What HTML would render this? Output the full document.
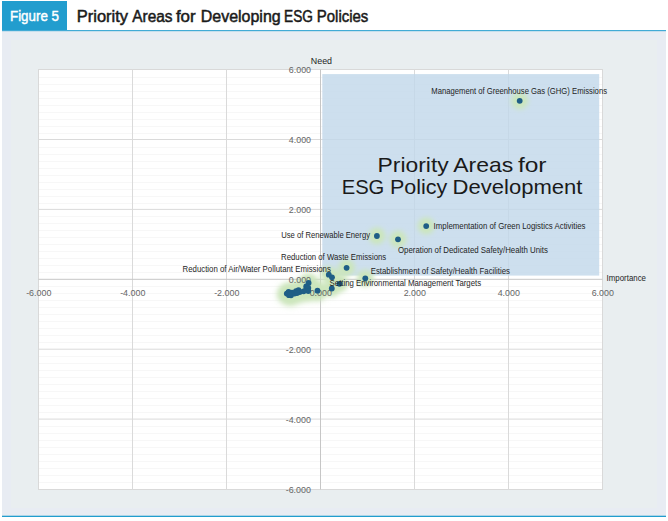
<!DOCTYPE html>
<html><head><meta charset="utf-8">
<style>
html,body{margin:0;padding:0;background:#fff;width:668px;height:521px;overflow:hidden}
svg{display:block}
text{font-family:"Liberation Sans",sans-serif}
.tk{font-size:9.6px;fill:#666}
.lb{font-size:9.5px;fill:#1e1e1e}
</style></head><body>
<svg width="668" height="521" viewBox="0 0 668 521">
<defs>
<filter id="blur" x="-50%" y="-50%" width="200%" height="200%"><feGaussianBlur stdDeviation="2.5"/></filter>
<filter id="blur2" x="-50%" y="-50%" width="200%" height="200%"><feGaussianBlur stdDeviation="3.5"/></filter>
</defs>
<rect x="0" y="0" width="668" height="521" fill="#fff"/>
<rect x="2" y="30" width="664" height="486" fill="#e8ecf3"/>
<rect x="11" y="40" width="646" height="468" fill="#e9eef0"/>
<rect x="2" y="1" width="65" height="29.6" fill="#229dce"/>
<rect x="2" y="30" width="664" height="1.2" fill="#42aad6"/>
<rect x="2" y="515.7" width="664" height="1.3" fill="#229dce"/>
<text x="10" y="20.6" font-size="14.6" fill="#fff" stroke="#fff" stroke-width="0.45" textLength="49" lengthAdjust="spacingAndGlyphs">Figure 5</text>
<text x="76.80" y="21.7" textLength="51.22" lengthAdjust="spacingAndGlyphs" font-size="16" fill="#1a1a1a" stroke="#1a1a1a" stroke-width="0.5">Priority</text>
<text x="132.30" y="21.7" textLength="40.24" lengthAdjust="spacingAndGlyphs" font-size="16" fill="#1a1a1a" stroke="#1a1a1a" stroke-width="0.5">Areas</text>
<text x="175.90" y="21.7" textLength="19.73" lengthAdjust="spacingAndGlyphs" font-size="16" fill="#1a1a1a" stroke="#1a1a1a" stroke-width="0.5">for</text>
<text x="200.80" y="21.7" textLength="79.88" lengthAdjust="spacingAndGlyphs" font-size="16" fill="#1a1a1a" stroke="#1a1a1a" stroke-width="0.5">Developing</text>
<text x="284.10" y="21.7" textLength="28.83" lengthAdjust="spacingAndGlyphs" font-size="16" fill="#1a1a1a" stroke="#1a1a1a" stroke-width="0.5">ESG</text>
<text x="316.80" y="21.7" textLength="51.51" lengthAdjust="spacingAndGlyphs" font-size="16" fill="#1a1a1a" stroke="#1a1a1a" stroke-width="0.5">Policies</text>
<rect x="38.5" y="69.5" width="564.0" height="420.0" fill="#fff" stroke="#d9d9d9" stroke-width="1"/>
<line x1="39.0" y1="482.50" x2="602.0" y2="482.50" stroke="#f7f7f7" stroke-width="1"/>
<line x1="39.0" y1="475.50" x2="602.0" y2="475.50" stroke="#f7f7f7" stroke-width="1"/>
<line x1="39.0" y1="468.50" x2="602.0" y2="468.50" stroke="#f7f7f7" stroke-width="1"/>
<line x1="39.0" y1="461.50" x2="602.0" y2="461.50" stroke="#f7f7f7" stroke-width="1"/>
<line x1="39.0" y1="454.50" x2="602.0" y2="454.50" stroke="#f7f7f7" stroke-width="1"/>
<line x1="39.0" y1="447.50" x2="602.0" y2="447.50" stroke="#f7f7f7" stroke-width="1"/>
<line x1="39.0" y1="440.50" x2="602.0" y2="440.50" stroke="#f7f7f7" stroke-width="1"/>
<line x1="39.0" y1="433.50" x2="602.0" y2="433.50" stroke="#f7f7f7" stroke-width="1"/>
<line x1="39.0" y1="426.50" x2="602.0" y2="426.50" stroke="#f7f7f7" stroke-width="1"/>
<line x1="39.0" y1="412.50" x2="602.0" y2="412.50" stroke="#f7f7f7" stroke-width="1"/>
<line x1="39.0" y1="405.50" x2="602.0" y2="405.50" stroke="#f7f7f7" stroke-width="1"/>
<line x1="39.0" y1="398.50" x2="602.0" y2="398.50" stroke="#f7f7f7" stroke-width="1"/>
<line x1="39.0" y1="391.50" x2="602.0" y2="391.50" stroke="#f7f7f7" stroke-width="1"/>
<line x1="39.0" y1="384.50" x2="602.0" y2="384.50" stroke="#f7f7f7" stroke-width="1"/>
<line x1="39.0" y1="377.50" x2="602.0" y2="377.50" stroke="#f7f7f7" stroke-width="1"/>
<line x1="39.0" y1="370.50" x2="602.0" y2="370.50" stroke="#f7f7f7" stroke-width="1"/>
<line x1="39.0" y1="363.50" x2="602.0" y2="363.50" stroke="#f7f7f7" stroke-width="1"/>
<line x1="39.0" y1="356.50" x2="602.0" y2="356.50" stroke="#f7f7f7" stroke-width="1"/>
<line x1="39.0" y1="342.50" x2="602.0" y2="342.50" stroke="#f7f7f7" stroke-width="1"/>
<line x1="39.0" y1="335.50" x2="602.0" y2="335.50" stroke="#f7f7f7" stroke-width="1"/>
<line x1="39.0" y1="328.50" x2="602.0" y2="328.50" stroke="#f7f7f7" stroke-width="1"/>
<line x1="39.0" y1="321.50" x2="602.0" y2="321.50" stroke="#f7f7f7" stroke-width="1"/>
<line x1="39.0" y1="314.50" x2="602.0" y2="314.50" stroke="#f7f7f7" stroke-width="1"/>
<line x1="39.0" y1="307.50" x2="602.0" y2="307.50" stroke="#f7f7f7" stroke-width="1"/>
<line x1="39.0" y1="300.50" x2="602.0" y2="300.50" stroke="#f7f7f7" stroke-width="1"/>
<line x1="39.0" y1="293.50" x2="602.0" y2="293.50" stroke="#f7f7f7" stroke-width="1"/>
<line x1="39.0" y1="286.50" x2="602.0" y2="286.50" stroke="#f7f7f7" stroke-width="1"/>
<line x1="39.0" y1="272.50" x2="602.0" y2="272.50" stroke="#f7f7f7" stroke-width="1"/>
<line x1="39.0" y1="265.50" x2="602.0" y2="265.50" stroke="#f7f7f7" stroke-width="1"/>
<line x1="39.0" y1="258.50" x2="602.0" y2="258.50" stroke="#f7f7f7" stroke-width="1"/>
<line x1="39.0" y1="251.50" x2="602.0" y2="251.50" stroke="#f7f7f7" stroke-width="1"/>
<line x1="39.0" y1="244.50" x2="602.0" y2="244.50" stroke="#f7f7f7" stroke-width="1"/>
<line x1="39.0" y1="237.50" x2="602.0" y2="237.50" stroke="#f7f7f7" stroke-width="1"/>
<line x1="39.0" y1="230.50" x2="602.0" y2="230.50" stroke="#f7f7f7" stroke-width="1"/>
<line x1="39.0" y1="223.50" x2="602.0" y2="223.50" stroke="#f7f7f7" stroke-width="1"/>
<line x1="39.0" y1="216.50" x2="602.0" y2="216.50" stroke="#f7f7f7" stroke-width="1"/>
<line x1="39.0" y1="203.50" x2="602.0" y2="203.50" stroke="#f7f7f7" stroke-width="1"/>
<line x1="39.0" y1="196.50" x2="602.0" y2="196.50" stroke="#f7f7f7" stroke-width="1"/>
<line x1="39.0" y1="189.50" x2="602.0" y2="189.50" stroke="#f7f7f7" stroke-width="1"/>
<line x1="39.0" y1="182.50" x2="602.0" y2="182.50" stroke="#f7f7f7" stroke-width="1"/>
<line x1="39.0" y1="175.50" x2="602.0" y2="175.50" stroke="#f7f7f7" stroke-width="1"/>
<line x1="39.0" y1="168.50" x2="602.0" y2="168.50" stroke="#f7f7f7" stroke-width="1"/>
<line x1="39.0" y1="161.50" x2="602.0" y2="161.50" stroke="#f7f7f7" stroke-width="1"/>
<line x1="39.0" y1="154.50" x2="602.0" y2="154.50" stroke="#f7f7f7" stroke-width="1"/>
<line x1="39.0" y1="147.50" x2="602.0" y2="147.50" stroke="#f7f7f7" stroke-width="1"/>
<line x1="39.0" y1="133.50" x2="602.0" y2="133.50" stroke="#f7f7f7" stroke-width="1"/>
<line x1="39.0" y1="126.50" x2="602.0" y2="126.50" stroke="#f7f7f7" stroke-width="1"/>
<line x1="39.0" y1="119.50" x2="602.0" y2="119.50" stroke="#f7f7f7" stroke-width="1"/>
<line x1="39.0" y1="112.50" x2="602.0" y2="112.50" stroke="#f7f7f7" stroke-width="1"/>
<line x1="39.0" y1="105.50" x2="602.0" y2="105.50" stroke="#f7f7f7" stroke-width="1"/>
<line x1="39.0" y1="98.50" x2="602.0" y2="98.50" stroke="#f7f7f7" stroke-width="1"/>
<line x1="39.0" y1="91.50" x2="602.0" y2="91.50" stroke="#f7f7f7" stroke-width="1"/>
<line x1="39.0" y1="84.50" x2="602.0" y2="84.50" stroke="#f7f7f7" stroke-width="1"/>
<line x1="39.0" y1="77.50" x2="602.0" y2="77.50" stroke="#f7f7f7" stroke-width="1"/>
<line x1="132.50" y1="69.5" x2="132.50" y2="489.5" stroke="#dadada" stroke-width="1"/>
<line x1="226.50" y1="69.5" x2="226.50" y2="489.5" stroke="#dadada" stroke-width="1"/>
<line x1="414.50" y1="69.5" x2="414.50" y2="489.5" stroke="#dadada" stroke-width="1"/>
<line x1="508.50" y1="69.5" x2="508.50" y2="489.5" stroke="#dadada" stroke-width="1"/>
<line x1="38.5" y1="419.10" x2="602.5" y2="419.10" stroke="#dadada" stroke-width="1"/>
<line x1="38.5" y1="349.20" x2="602.5" y2="349.20" stroke="#dadada" stroke-width="1"/>
<line x1="38.5" y1="209.40" x2="602.5" y2="209.40" stroke="#dadada" stroke-width="1"/>
<line x1="38.5" y1="139.50" x2="602.5" y2="139.50" stroke="#dadada" stroke-width="1"/>
<rect x="322.3" y="74.1" width="276.9" height="201.5" fill="#c1d7ea" fill-opacity="0.8"/>
<text x="377.60" y="172.20000000000002" textLength="71.13" lengthAdjust="spacingAndGlyphs" font-size="19.8" fill="#1a1a1a">Priority</text>
<text x="453.30" y="172.20000000000002" textLength="59.96" lengthAdjust="spacingAndGlyphs" font-size="19.8" fill="#1a1a1a">Areas</text>
<text x="517.90" y="172.20000000000002" textLength="28.65" lengthAdjust="spacingAndGlyphs" font-size="19.8" fill="#1a1a1a">for</text>
<text x="341.70" y="193.70000000000002" textLength="42.64" lengthAdjust="spacingAndGlyphs" font-size="19.8" fill="#1a1a1a">ESG</text>
<text x="390.00" y="193.70000000000002" textLength="57.35" lengthAdjust="spacingAndGlyphs" font-size="19.8" fill="#1a1a1a">Policy</text>
<text x="452.60" y="193.70000000000002" textLength="129.85" lengthAdjust="spacingAndGlyphs" font-size="19.8" fill="#1a1a1a">Development</text>
<line x1="320.5" y1="69.5" x2="320.5" y2="489.5" stroke="#c6c6c6" stroke-width="1"/>
<line x1="38.5" y1="279.3" x2="602.5" y2="279.3" stroke="#c6c6c6" stroke-width="1"/>
<g filter="url(#blur2)">
<circle cx="317.5" cy="291.7" r="9" fill="#cde5bd"/>
<circle cx="286.8" cy="294.6" r="9" fill="#cde5bd"/>
<circle cx="288.5" cy="293.7" r="9" fill="#cde5bd"/>
<circle cx="288.6" cy="292.9" r="9" fill="#cde5bd"/>
<circle cx="289.0" cy="296.2" r="9" fill="#cde5bd"/>
<circle cx="291.0" cy="296.3" r="9" fill="#cde5bd"/>
<circle cx="292.0" cy="293.6" r="9" fill="#cde5bd"/>
<circle cx="294.5" cy="294.5" r="9" fill="#cde5bd"/>
<circle cx="296.0" cy="292.2" r="9" fill="#cde5bd"/>
<circle cx="298.5" cy="291.2" r="9" fill="#cde5bd"/>
<circle cx="299.7" cy="293.0" r="9" fill="#cde5bd"/>
<circle cx="290.0" cy="295.5" r="9" fill="#cde5bd"/>
<circle cx="297.0" cy="294.0" r="9" fill="#cde5bd"/>
<circle cx="308.6" cy="283.9" r="9" fill="#cde5bd"/>
<circle cx="306.2" cy="287.5" r="9" fill="#cde5bd"/>
<circle cx="306.2" cy="290.5" r="9" fill="#cde5bd"/>
<circle cx="308.3" cy="289.0" r="9" fill="#cde5bd"/>
<circle cx="308.3" cy="292.0" r="9" fill="#cde5bd"/>
<circle cx="303.6" cy="292.3" r="9" fill="#cde5bd"/>
</g>
<g filter="url(#blur)">
<circle cx="519.7" cy="100.8" r="8.5" fill="#cce6bc"/>
<circle cx="376.9" cy="236.0" r="8.5" fill="#cce6bc"/>
<circle cx="398.0" cy="239.3" r="8.5" fill="#cce6bc"/>
<circle cx="426.2" cy="226.1" r="8.5" fill="#cce6bc"/>
<circle cx="346.6" cy="267.8" r="8.5" fill="#cce6bc"/>
<circle cx="365.3" cy="278.3" r="8.5" fill="#cce6bc"/>
<circle cx="328.8" cy="274.7" r="8.5" fill="#cce6bc"/>
<circle cx="332.0" cy="277.3" r="8.5" fill="#cce6bc"/>
<circle cx="339.5" cy="283.8" r="8.5" fill="#cce6bc"/>
<circle cx="331.8" cy="288.5" r="8.5" fill="#cce6bc"/>
<circle cx="317.5" cy="290.7" r="8.5" fill="#cce6bc"/>
<circle cx="286.8" cy="293.6" r="8.5" fill="#cce6bc"/>
<circle cx="288.5" cy="292.7" r="8.5" fill="#cce6bc"/>
<circle cx="288.6" cy="291.9" r="8.5" fill="#cce6bc"/>
<circle cx="289.0" cy="295.2" r="8.5" fill="#cce6bc"/>
<circle cx="291.0" cy="295.3" r="8.5" fill="#cce6bc"/>
<circle cx="292.0" cy="292.6" r="8.5" fill="#cce6bc"/>
<circle cx="294.5" cy="293.5" r="8.5" fill="#cce6bc"/>
<circle cx="296.0" cy="291.2" r="8.5" fill="#cce6bc"/>
<circle cx="298.5" cy="290.2" r="8.5" fill="#cce6bc"/>
<circle cx="299.7" cy="292.0" r="8.5" fill="#cce6bc"/>
<circle cx="290.0" cy="294.5" r="8.5" fill="#cce6bc"/>
<circle cx="297.0" cy="293.0" r="8.5" fill="#cce6bc"/>
<circle cx="308.6" cy="282.9" r="8.5" fill="#cce6bc"/>
<circle cx="306.2" cy="286.5" r="8.5" fill="#cce6bc"/>
<circle cx="306.2" cy="289.5" r="8.5" fill="#cce6bc"/>
<circle cx="308.3" cy="288.0" r="8.5" fill="#cce6bc"/>
<circle cx="308.3" cy="291.0" r="8.5" fill="#cce6bc"/>
<circle cx="303.6" cy="291.3" r="8.5" fill="#cce6bc"/>
</g>
<text x="38.80" y="296.4" text-anchor="middle" textLength="25.3" lengthAdjust="spacingAndGlyphs" class="tk">-6.000</text>
<text x="132.80" y="296.4" text-anchor="middle" textLength="25.3" lengthAdjust="spacingAndGlyphs" class="tk">-4.000</text>
<text x="226.80" y="296.4" text-anchor="middle" textLength="25.3" lengthAdjust="spacingAndGlyphs" class="tk">-2.000</text>
<text x="320.80" y="296.4" text-anchor="middle" textLength="22.2" lengthAdjust="spacingAndGlyphs" class="tk">0.000</text>
<text x="414.80" y="296.4" text-anchor="middle" textLength="22.2" lengthAdjust="spacingAndGlyphs" class="tk">2.000</text>
<text x="508.80" y="296.4" text-anchor="middle" textLength="22.2" lengthAdjust="spacingAndGlyphs" class="tk">4.000</text>
<text x="602.80" y="296.4" text-anchor="middle" textLength="22.2" lengthAdjust="spacingAndGlyphs" class="tk">6.000</text>
<text x="285.70" y="492.60" textLength="25.3" lengthAdjust="spacingAndGlyphs" class="tk">-6.000</text>
<text x="285.70" y="422.70" textLength="25.3" lengthAdjust="spacingAndGlyphs" class="tk">-4.000</text>
<text x="285.70" y="352.80" textLength="25.3" lengthAdjust="spacingAndGlyphs" class="tk">-2.000</text>
<text x="288.80" y="282.90" textLength="22.2" lengthAdjust="spacingAndGlyphs" class="tk">0.000</text>
<text x="288.80" y="213.00" textLength="22.2" lengthAdjust="spacingAndGlyphs" class="tk">2.000</text>
<text x="288.80" y="143.10" textLength="22.2" lengthAdjust="spacingAndGlyphs" class="tk">4.000</text>
<text x="288.80" y="73.20" textLength="22.2" lengthAdjust="spacingAndGlyphs" class="tk">6.000</text>
<circle cx="519.7" cy="100.8" r="2.9" fill="#1f5e86"/>
<circle cx="376.9" cy="236.0" r="2.9" fill="#1f5e86"/>
<circle cx="398.0" cy="239.3" r="2.9" fill="#1f5e86"/>
<circle cx="426.2" cy="226.1" r="2.9" fill="#1f5e86"/>
<circle cx="346.6" cy="267.8" r="2.9" fill="#1f5e86"/>
<circle cx="365.3" cy="278.3" r="2.9" fill="#1f5e86"/>
<circle cx="328.8" cy="274.7" r="2.9" fill="#1f5e86"/>
<circle cx="332.0" cy="277.3" r="2.9" fill="#1f5e86"/>
<circle cx="339.5" cy="283.8" r="2.9" fill="#1f5e86"/>
<circle cx="331.8" cy="288.5" r="2.9" fill="#1f5e86"/>
<circle cx="317.5" cy="290.7" r="2.9" fill="#1f5e86"/>
<circle cx="286.8" cy="293.6" r="2.9" fill="#1f5e86"/>
<circle cx="288.5" cy="292.7" r="2.9" fill="#1f5e86"/>
<circle cx="288.6" cy="291.9" r="2.9" fill="#1f5e86"/>
<circle cx="289.0" cy="295.2" r="2.9" fill="#1f5e86"/>
<circle cx="291.0" cy="295.3" r="2.9" fill="#1f5e86"/>
<circle cx="292.0" cy="292.6" r="2.9" fill="#1f5e86"/>
<circle cx="294.5" cy="293.5" r="2.9" fill="#1f5e86"/>
<circle cx="296.0" cy="291.2" r="2.9" fill="#1f5e86"/>
<circle cx="298.5" cy="290.2" r="2.9" fill="#1f5e86"/>
<circle cx="299.7" cy="292.0" r="2.9" fill="#1f5e86"/>
<circle cx="290.0" cy="294.5" r="2.9" fill="#1f5e86"/>
<circle cx="297.0" cy="293.0" r="2.9" fill="#1f5e86"/>
<circle cx="308.6" cy="282.9" r="2.9" fill="#1f5e86"/>
<circle cx="306.2" cy="286.5" r="2.9" fill="#1f5e86"/>
<circle cx="306.2" cy="289.5" r="2.9" fill="#1f5e86"/>
<circle cx="308.3" cy="288.0" r="2.9" fill="#1f5e86"/>
<circle cx="308.3" cy="291.0" r="2.9" fill="#1f5e86"/>
<circle cx="303.6" cy="291.3" r="2.9" fill="#1f5e86"/>
<text x="431.3" y="94.2" textLength="175.7" lengthAdjust="spacingAndGlyphs" class="lb">Management of Greenhouse Gas (GHG) Emissions</text>
<text x="281.2" y="238.0" textLength="88.8" lengthAdjust="spacingAndGlyphs" class="lb">Use of Renewable Energy</text>
<text x="433.6" y="229.3" textLength="151.9" lengthAdjust="spacingAndGlyphs" class="lb">Implementation of Green Logistics Activities</text>
<text x="398.0" y="252.8" textLength="149.9" lengthAdjust="spacingAndGlyphs" class="lb">Operation of Dedicated Safety/Health Units</text>
<text x="281.1" y="259.8" textLength="105.1" lengthAdjust="spacingAndGlyphs" class="lb">Reduction of Waste Emissions</text>
<text x="182.6" y="271.7" textLength="148.2" lengthAdjust="spacingAndGlyphs" class="lb">Reduction of Air/Water Pollutant Emissions</text>
<text x="370.7" y="273.9" textLength="139.2" lengthAdjust="spacingAndGlyphs" class="lb">Establishment of Safety/Health Facilities</text>
<text x="329.6" y="286.0" textLength="151.5" lengthAdjust="spacingAndGlyphs" class="lb">Setting Environmental Management Targets</text>
<text x="606.6" y="281.0" textLength="39.4" lengthAdjust="spacingAndGlyphs" class="lb">Importance</text>
<text x="310.8" y="63.9" textLength="21.2" lengthAdjust="spacingAndGlyphs" class="lb">Need</text>
</svg>
</body></html>
